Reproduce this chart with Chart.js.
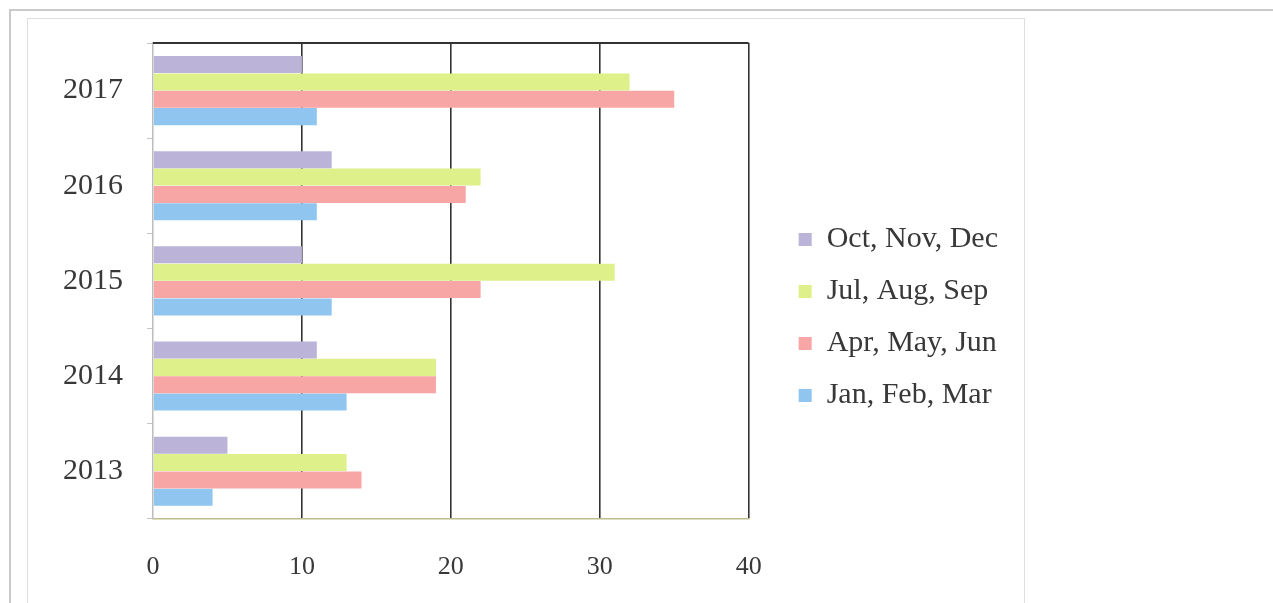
<!DOCTYPE html>
<html>
<head>
<meta charset="utf-8">
<script src="https://cdn.jsdelivr.net/npm/chart.js@4.4.1/dist/chart.umd.min.js"></script>
<style>
body { margin: 0; background: #fff; }
#wrap { position: relative; width: 1273px; height: 603px; overflow: hidden; }
#outer { position: absolute; left: 9px; top: 9px; right: -4px; bottom: -4px; border-left: 2px solid #cacaca; border-top: 2px solid #cacaca; }
#inner { position: absolute; left: 27px; top: 18px; width: 996px; height: 600px; border: 1px solid #dedede; }
canvas { position: absolute; left: 0; top: 0; }
</style>
</head>
<body>
<div id="wrap">
  <div id="outer"></div>
  <div id="inner"></div>
  <canvas id="chart" width="1273" height="603"></canvas>
</div>
<script>
// years listed top to bottom, as in the picture
const years = ['2017', '2016', '2015', '2014', '2013']
const octNovDec = [10, 12, 10, 11, 5]
const julAugSep = [32, 22, 31, 19, 13]
const aprMayJun = [35, 21, 22, 19, 14]
const janFebMar = [11, 11, 12, 13, 4]

const xMin = 0
const xMax = 40
const xStep = 10

const serif = '"Liberation Serif", "DejaVu Serif", serif'
const textColor = '#383838'

// dark line along the top of the plot area
const topBorder = {
    id: 'topBorder',
    beforeDatasetsDraw(chart) {
        const {ctx, chartArea} = chart
        ctx.save()
        ctx.strokeStyle = '#333'
        ctx.lineWidth = 2
        ctx.beginPath()
        ctx.moveTo(chartArea.left, chartArea.top)
        ctx.lineTo(chartArea.right, chartArea.top)
        ctx.stroke()
        ctx.restore()
    }
}

// push the legend a bit away from the plot, like the original
const legendPlace = {
    id: 'legendPlace',
    afterLayout(chart) {
        const lg = chart.legend
        const w = lg.right - lg.left
        lg.left = chart.chartArea.right + 28
        lg.right = lg.left + w
        lg.top -= 12
        lg.bottom -= 12
    }
}

const data = {
    labels: years,
    datasets: [
        { label: 'Oct, Nov, Dec', data: octNovDec, backgroundColor: '#bbb3d8' },
        { label: 'Jul, Aug, Sep', data: julAugSep, backgroundColor: '#def08a' },
        { label: 'Apr, May, Jun', data: aprMayJun, backgroundColor: '#f8a5a5' },
        { label: 'Jan, Feb, Mar', data: janFebMar, backgroundColor: '#8fc5ee' }
    ]
}

const options = {
    indexAxis: 'y',
    responsive: false,
    animation: false,
    categoryPercentage: 0.73,
    barPercentage: 0.98,
    layout: {
        padding: { left: 0, top: 43, right: 293, bottom: -13 }
    },
    plugins: {
        legend: {
            position: 'right',
            labels: {
                font: { family: serif, size: 30 },
                color: textColor,
                boxWidth: 13,
                boxHeight: 13,
                padding: 22
            }
        },
        tooltip: { enabled: false }
    },
    scales: {
        x: {
            min: xMin,
            max: xMax,
            ticks: {
                stepSize: xStep,
                font: { family: serif, size: 26 },
                color: textColor,
                padding: 33
            },
            grid: {
                color: (c) => c.tick && c.tick.value === xMin ? 'rgba(0,0,0,0)' : '#333',
                lineWidth: 1.6,
                drawTicks: false
            },
            border: { color: '#bdbd8c', width: 1.5 }
        },
        y: {
            afterFit(scale) {
                scale.width = 153
            },
            ticks: {
                font: { family: serif, size: 30 },
                color: textColor,
                padding: 24
            },
            grid: {
                drawOnChartArea: false,
                drawTicks: true,
                tickLength: 6,
                color: '#c4c4c4',
                offset: true
            },
            border: { color: '#bdbdbd', width: 1.5 }
        }
    }
}

new Chart(document.getElementById('chart'), {
    type: 'bar',
    data: data,
    options: options,
    plugins: [topBorder, legendPlace]
})
</script>
</body>
</html>
